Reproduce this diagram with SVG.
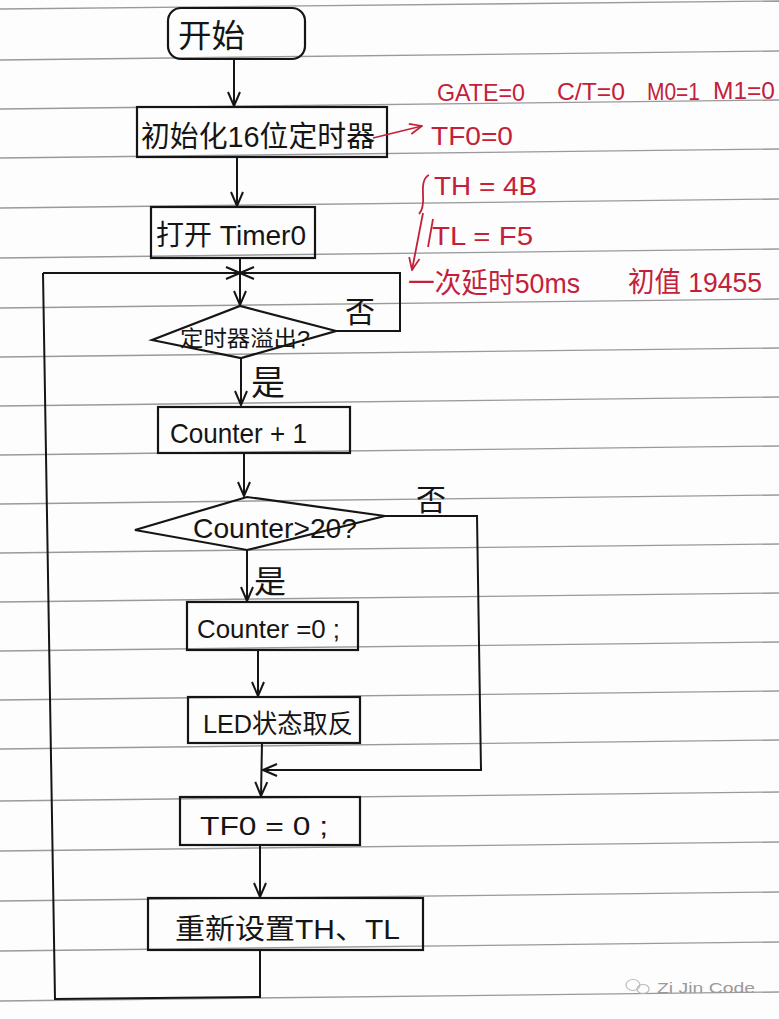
<svg xmlns="http://www.w3.org/2000/svg" width="779" height="1019" viewBox="0 0 779 1019">
<defs>
<style>
.paper{stroke:#9a9a9a;stroke-width:1.4;fill:none}
.box{fill:none;stroke:#151515;stroke-width:2.2}
.ln{fill:none;stroke:#151515;stroke-width:2}
.red{fill:none;stroke:#c4203a;stroke-width:1.8}
.t{font-family:"Liberation Sans","Noto Sans CJK SC",sans-serif;fill:#151515}
.tr{font-family:"Liberation Sans","Noto Sans CJK SC",sans-serif;fill:#c4203a}
.wm{font-family:"Liberation Sans",sans-serif;fill:#9a9a9a;font-size:15px}
</style>
<marker id="ah" viewBox="0 0 16 16" refX="15" refY="8" markerWidth="16" markerHeight="16" markerUnits="userSpaceOnUse" orient="auto">
<path d="M1,2 L15,8 L1,14" fill="none" stroke="#151515" stroke-width="2"/>
</marker>
<marker id="ahr" viewBox="0 0 16 16" refX="15" refY="8" markerWidth="14" markerHeight="14" markerUnits="userSpaceOnUse" orient="auto">
<path d="M1,2 L15,8 L1,14" fill="none" stroke="#c4203a" stroke-width="2"/>
</marker>
</defs>
<rect width="779" height="1019" fill="#fdfdfd"/>
<g id="paper-lines">
<path class="paper" d="M0,9 L779,1"/>
<path class="paper" d="M0,60 L779,51"/>
<path class="paper" d="M0,109 L779,100"/>
<path class="paper" d="M0,158 L779,149"/>
<path class="paper" d="M0,208 L779,199"/>
<path class="paper" d="M0,258 L779,249"/>
<path class="paper" d="M0,308 L779,299"/>
<path class="paper" d="M0,357 L779,348"/>
<path class="paper" d="M0,406 L779,397"/>
<path class="paper" d="M0,455 L779,446"/>
<path class="paper" d="M0,504 L779,495"/>
<path class="paper" d="M0,553 L779,544"/>
<path class="paper" d="M0,602 L779,593"/>
<path class="paper" d="M0,651 L779,642"/>
<path class="paper" d="M0,700 L779,691"/>
<path class="paper" d="M0,749 L779,740"/>
<path class="paper" d="M0,801 L779,792"/>
<path class="paper" d="M0,851 L779,842"/>
<path class="paper" d="M0,901 L779,892"/>
<path class="paper" d="M0,951 L779,942"/>
<path class="paper" d="M0,1001 L779,992"/>
</g>
<g id="connectors">
<path class="ln" d="M234,59 L234,106" marker-end="url(#ah)"/>
<path class="ln" d="M237,157 L237,206" marker-end="url(#ah)"/>
<path class="ln" d="M240,258 L240,305" marker-end="url(#ah)"/>
<path class="ln" d="M43,273 L240,273" marker-end="url(#ah)"/>
<path class="ln" d="M336,331 L400,331 L400,273 L240,273" marker-end="url(#ah)"/>
<path class="ln" d="M241,358 L241,405" marker-end="url(#ah)"/>
<path class="ln" d="M244,452 L244,496" marker-end="url(#ah)"/>
<path class="ln" d="M247,550 L247,601" marker-end="url(#ah)"/>
<path class="ln" d="M385,516 L477,516 L481,770 L263,770" marker-end="url(#ah)"/>
<path class="ln" d="M258,650 L258,696" marker-end="url(#ah)"/>
<path class="ln" d="M262,743 L261,796" marker-end="url(#ah)"/>
<path class="ln" d="M260,845 L260,897" marker-end="url(#ah)"/>
<path class="ln" d="M260,950 L260,997 L55,999 L43,273"/>
<text class="t" x="360" y="322" font-size="30" text-anchor="middle">否</text>
<text class="t" x="268" y="395" font-size="34" text-anchor="middle">是</text>
<text class="t" x="431" y="510" font-size="30" text-anchor="middle">否</text>
<text class="t" x="270" y="593" font-size="32" text-anchor="middle">是</text>
</g>
<g id="start">
<rect class="box" x="168" y="8" width="137" height="51" rx="13"/>
<text class="t" x="178" y="47" font-size="32" textLength="67" lengthAdjust="spacingAndGlyphs">开始</text>
</g>
<g id="init">
<rect class="box" x="137" y="107" width="250" height="50"/>
<text class="t" x="141" y="147" font-size="29" textLength="234" lengthAdjust="spacingAndGlyphs">初始化16位定时器</text>
</g>
<g id="open-timer">
<rect class="box" x="151" y="207" width="164" height="51"/>
<text class="t" x="156" y="245" font-size="28" textLength="150" lengthAdjust="spacingAndGlyphs">打开 Timer0</text>
</g>
<g id="overflow">
<path class="box" d="M152,340 L240,306 L336,331 L241,358 Z"/>
<text class="t" x="180" y="346" font-size="22" textLength="130" lengthAdjust="spacingAndGlyphs">定时器溢出?</text>
</g>
<g id="counter-inc">
<rect class="box" x="158" y="407" width="192" height="46"/>
<text class="t" x="170" y="443" font-size="28" textLength="137" lengthAdjust="spacingAndGlyphs">Counter + 1</text>
</g>
<g id="counter-check">
<path class="box" d="M135,530 L247,497 L385,516 L247,550 Z"/>
<text class="t" x="193" y="538" font-size="28" textLength="164" lengthAdjust="spacingAndGlyphs">Counter&gt;20?</text>
</g>
<g id="counter-reset">
<rect class="box" x="187" y="602" width="171" height="48"/>
<text class="t" x="197" y="638" font-size="26" textLength="143" lengthAdjust="spacingAndGlyphs">Counter =0 ;</text>
</g>
<g id="led-toggle">
<rect class="box" x="188" y="697" width="172" height="46"/>
<text class="t" x="203" y="733" font-size="26" textLength="150" lengthAdjust="spacingAndGlyphs">LED状态取反</text>
</g>
<g id="clear-flag">
<rect class="box" x="180" y="797" width="180" height="48"/>
<text class="t" x="200" y="835" font-size="26" textLength="128" lengthAdjust="spacingAndGlyphs">TF0 = 0 ;</text>
</g>
<g id="reload">
<rect class="box" x="148" y="898" width="275" height="52"/>
<text class="t" x="175" y="939" font-size="28" textLength="225" lengthAdjust="spacingAndGlyphs">重新设置TH、TL</text>
</g>
<g id="notes">
<path class="red" d="M373,138 L422,126" marker-end="url(#ahr)"/>
<text class="tr" x="437" y="101" font-size="24" textLength="88" lengthAdjust="spacingAndGlyphs">GATE=0</text>
<text class="tr" x="557" y="100" font-size="24" textLength="68" lengthAdjust="spacingAndGlyphs">C/T=0</text>
<text class="tr" x="647" y="100" font-size="24" textLength="53" lengthAdjust="spacingAndGlyphs">M0=1</text>
<text class="tr" x="713" y="99" font-size="24" textLength="62" lengthAdjust="spacingAndGlyphs">M1=0</text>
<text class="tr" x="431" y="145" font-size="26" textLength="82" lengthAdjust="spacingAndGlyphs">TF0=0</text>
<text class="tr" x="434" y="195" font-size="26" textLength="103" lengthAdjust="spacingAndGlyphs">TH = 4B</text>
<text class="tr" x="432" y="245" font-size="26" textLength="101" lengthAdjust="spacingAndGlyphs">TL = F5</text>
<path class="red" d="M429,175 Q422,178 423,194 Q424,209 419,214"/>
<path class="red" d="M433,219 L428,247"/>
<path class="red" d="M423,213 L412,270" marker-end="url(#ahr)"/>
<text class="tr" x="408" y="293" font-size="28" textLength="172" lengthAdjust="spacingAndGlyphs">一次延时50ms</text>
<text class="tr" x="628" y="292" font-size="28" textLength="134" lengthAdjust="spacingAndGlyphs">初值 19455</text>
</g>
<g id="watermark">
<ellipse cx="633" cy="985" rx="7" ry="5.5" fill="none" stroke="#bbb" stroke-width="1.2"/>
<ellipse cx="643" cy="989" rx="6" ry="4.5" fill="none" stroke="#bbb" stroke-width="1.2"/>
<text class="wm" x="657" y="993" textLength="98" lengthAdjust="spacingAndGlyphs">Zi Jin Code</text>
</g>
</svg>
